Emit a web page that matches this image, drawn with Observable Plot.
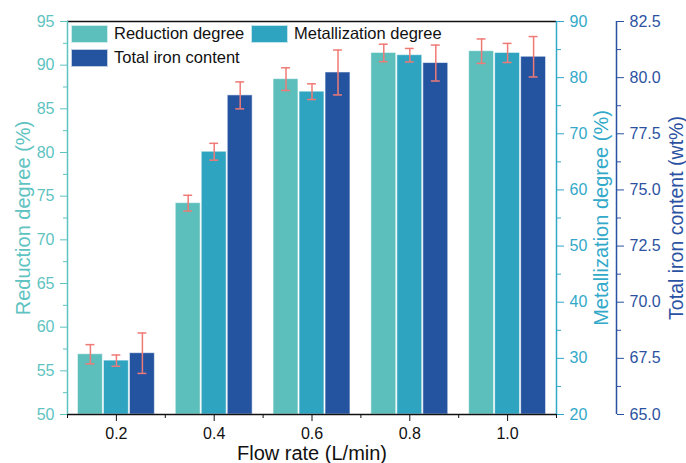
<!DOCTYPE html>
<html><head><meta charset="utf-8">
<script src="https://cdn.jsdelivr.net/npm/d3@7"></script>
<script src="https://cdn.jsdelivr.net/npm/@observablehq/plot@0.6"></script>
<style>
body{margin:0;background:#fff;font-family:"Liberation Sans",Arial,sans-serif;}
#wrap{position:relative;width:686px;height:463px;}
.item{position:absolute;display:flex;align-items:center;white-space:nowrap;font-size:16.5px;color:#111;height:17px;}
.sw{width:35px;height:16px;margin-right:6px;border:1px solid rgba(255,255,255,0.7);box-sizing:content-box;}
</style></head><body><div id="wrap"></div>
<script>
const flows = [0.2, 0.4, 0.6, 0.8, 1.0];
const reduction = [56.9, 74.2, 88.4, 91.4, 91.6];
const reductionErr = [1.1, 0.9, 1.3, 1.0, 1.4];
const metallization = [29.6, 66.8, 77.5, 84.0, 84.4];
const metallizationErr = [1.0, 1.5, 1.4, 1.2, 1.7];
const iron = [67.73, 79.21, 80.23, 80.65, 80.93];
const ironErr = [0.9, 0.6, 1.0, 0.8, 0.9];

const redTicks = [50, 55, 60, 65, 70, 75, 80, 85, 90, 95];
const metTicks = [20, 30, 40, 50, 60, 70, 80, 90];
const ironTicks = [65.0, 67.5, 70.0, 72.5, 75.0, 77.5, 80.0, 82.5];

const yDomain = [50, 95], metDomain = [20, 90], ironDomain = [65, 82.5];
const toMet = d3.scaleLinear(metDomain, yDomain);
const toIron = d3.scaleLinear(ironDomain, yDomain);

const cRed = "#5cbfbb", cMet = "#2fa4c0", cIron = "#2453a0", cErr = "#f07a76";
const cRedAxis = "#5ec3c1", cMetAxis = "#33a9c9", cIronAxis = "#2b52a2";

const series = [
  {name: "Reduction degree", values: reduction, err: reductionErr, map: v => v, color: cRed, dx: -26},
  {name: "Metallization degree", values: metallization, err: metallizationErr, map: toMet, color: cMet, dx: 0},
  {name: "Total iron content", values: iron, err: ironErr, map: toIron, color: cIron, dx: 26}
];
const half = 0.05;

const marks = [];
for (const s of series) {
  const rows = flows.map((f, i) => ({flow: f, v: s.map(s.values[i]), lo: s.map(s.values[i] - s.err[i]), hi: s.map(s.values[i] + s.err[i])}));
  marks.push(Plot.rect(rows, {x1: d => d.flow - half, x2: d => d.flow + half, y1: () => yDomain[0], y2: "v", fill: s.color, dx: s.dx, insetLeft: 12, insetRight: 12, stroke: "#ffffff", strokeOpacity: 0.55, strokeWidth: 1}));
  marks.push(Plot.ruleX(rows, {x: "flow", y1: "lo", y2: "hi", dx: s.dx, stroke: cErr, strokeWidth: 1.5}));
  marks.push(Plot.ruleY(rows, {y: "lo", x1: d => d.flow - half, x2: d => d.flow + half, insetLeft: 20, insetRight: 20, dx: s.dx, stroke: cErr, strokeWidth: 1.5}));
  marks.push(Plot.ruleY(rows, {y: "hi", x1: d => d.flow - half, x2: d => d.flow + half, insetLeft: 20, insetRight: 20, dx: s.dx, stroke: cErr, strokeWidth: 1.5}));
}

const mid = a => a.slice(0, -1).map((v, i) => (v + a[i + 1]) / 2);
const xMinor = [0.1, 0.3, 0.5, 0.7, 0.9, 1.1];

const chart = Plot.plot({
  width: 686, height: 463,
  marginLeft: 67, marginRight: 130, marginTop: 21, marginBottom: 49,
  style: {fontFamily: "'Liberation Sans', Arial, sans-serif", background: "white"},
  x: {type: "linear", domain: [0.1, 1.1], axis: null},
  y: {domain: yDomain, axis: null},
  marks: [
    ...marks,
    Plot.ruleY([yDomain[1]], {stroke: "#111", strokeWidth: 1.5}),
    Plot.ruleY([yDomain[0]], {stroke: "#111", strokeWidth: 1.5}),
    Plot.ruleX([0.1], {stroke: cRedAxis, strokeWidth: 1.5}),
    Plot.ruleX([1.1], {stroke: cMetAxis, strokeWidth: 1.5}),
    Plot.ruleX([1.1], {stroke: cIronAxis, strokeWidth: 1.5, dx: 60}),
    Plot.axisY(redTicks, {anchor: "left", tickSize: 7, tickPadding: 6, color: cRedAxis, fontSize: 16, label: null}),
    Plot.axisY(mid(redTicks), {anchor: "left", tickSize: 4, tickFormat: () => "", color: cRedAxis, label: null}),
    Plot.axisY(metTicks.map(toMet), {anchor: "right", tickSize: 7, tickPadding: 6, color: cMetAxis, fontSize: 16, label: null, tickFormat: d => String(Math.round(toMet.invert(d)))}),
    Plot.axisY(mid(metTicks).map(toMet), {anchor: "right", tickSize: 4, tickFormat: () => "", color: cMetAxis, label: null}),
    Plot.axisY(ironTicks.map(toIron), {anchor: "right", dx: 60, tickSize: 7, tickPadding: 6, color: cIronAxis, fontSize: 16, label: null, tickFormat: d => toIron.invert(d).toFixed(1)}),
    Plot.axisY(mid(ironTicks).map(toIron), {anchor: "right", dx: 60, tickSize: 4, tickFormat: () => "", color: cIronAxis, label: null}),
    Plot.axisX(flows, {anchor: "bottom", tickSize: 7, tickPadding: 6, color: "#111", fontSize: 16, label: null, tickFormat: d => d.toFixed(1)}),
    Plot.axisX(xMinor, {anchor: "bottom", tickSize: 4, tickFormat: () => "", color: "#111", label: null}),
    Plot.text(["Reduction degree (%)"], {frameAnchor: "left", rotate: -90, dx: -44, textAnchor: "middle", lineAnchor: "middle", fill: cRedAxis, fontSize: 20}),
    Plot.text(["Metallization degree (%)"], {frameAnchor: "right", rotate: -90, dx: 45, textAnchor: "middle", lineAnchor: "middle", fill: cMetAxis, fontSize: 20}),
    Plot.text(["Total iron content (wt%)"], {frameAnchor: "right", rotate: -90, dx: 120, textAnchor: "middle", lineAnchor: "middle", fill: cIronAxis, fontSize: 19.5}),
    Plot.text(["Flow rate (L/min)"], {frameAnchor: "bottom", dy: 39, textAnchor: "middle", lineAnchor: "middle", fill: "#111", fontSize: 20})
  ]
});

const wrap = document.getElementById("wrap");
wrap.appendChild(chart);
const legendPos = [[71, 25], [251, 25], [71, 49]];
series.forEach((s, i) => {
  const el = document.createElement("div");
  el.className = "item";
  el.style.left = legendPos[i][0] + "px";
  el.style.top = legendPos[i][1] + "px";
  const sw = document.createElement("div");
  sw.className = "sw";
  sw.style.background = s.color;
  el.appendChild(sw);
  el.appendChild(document.createTextNode(s.name));
  wrap.appendChild(el);
});
</script></body></html>
